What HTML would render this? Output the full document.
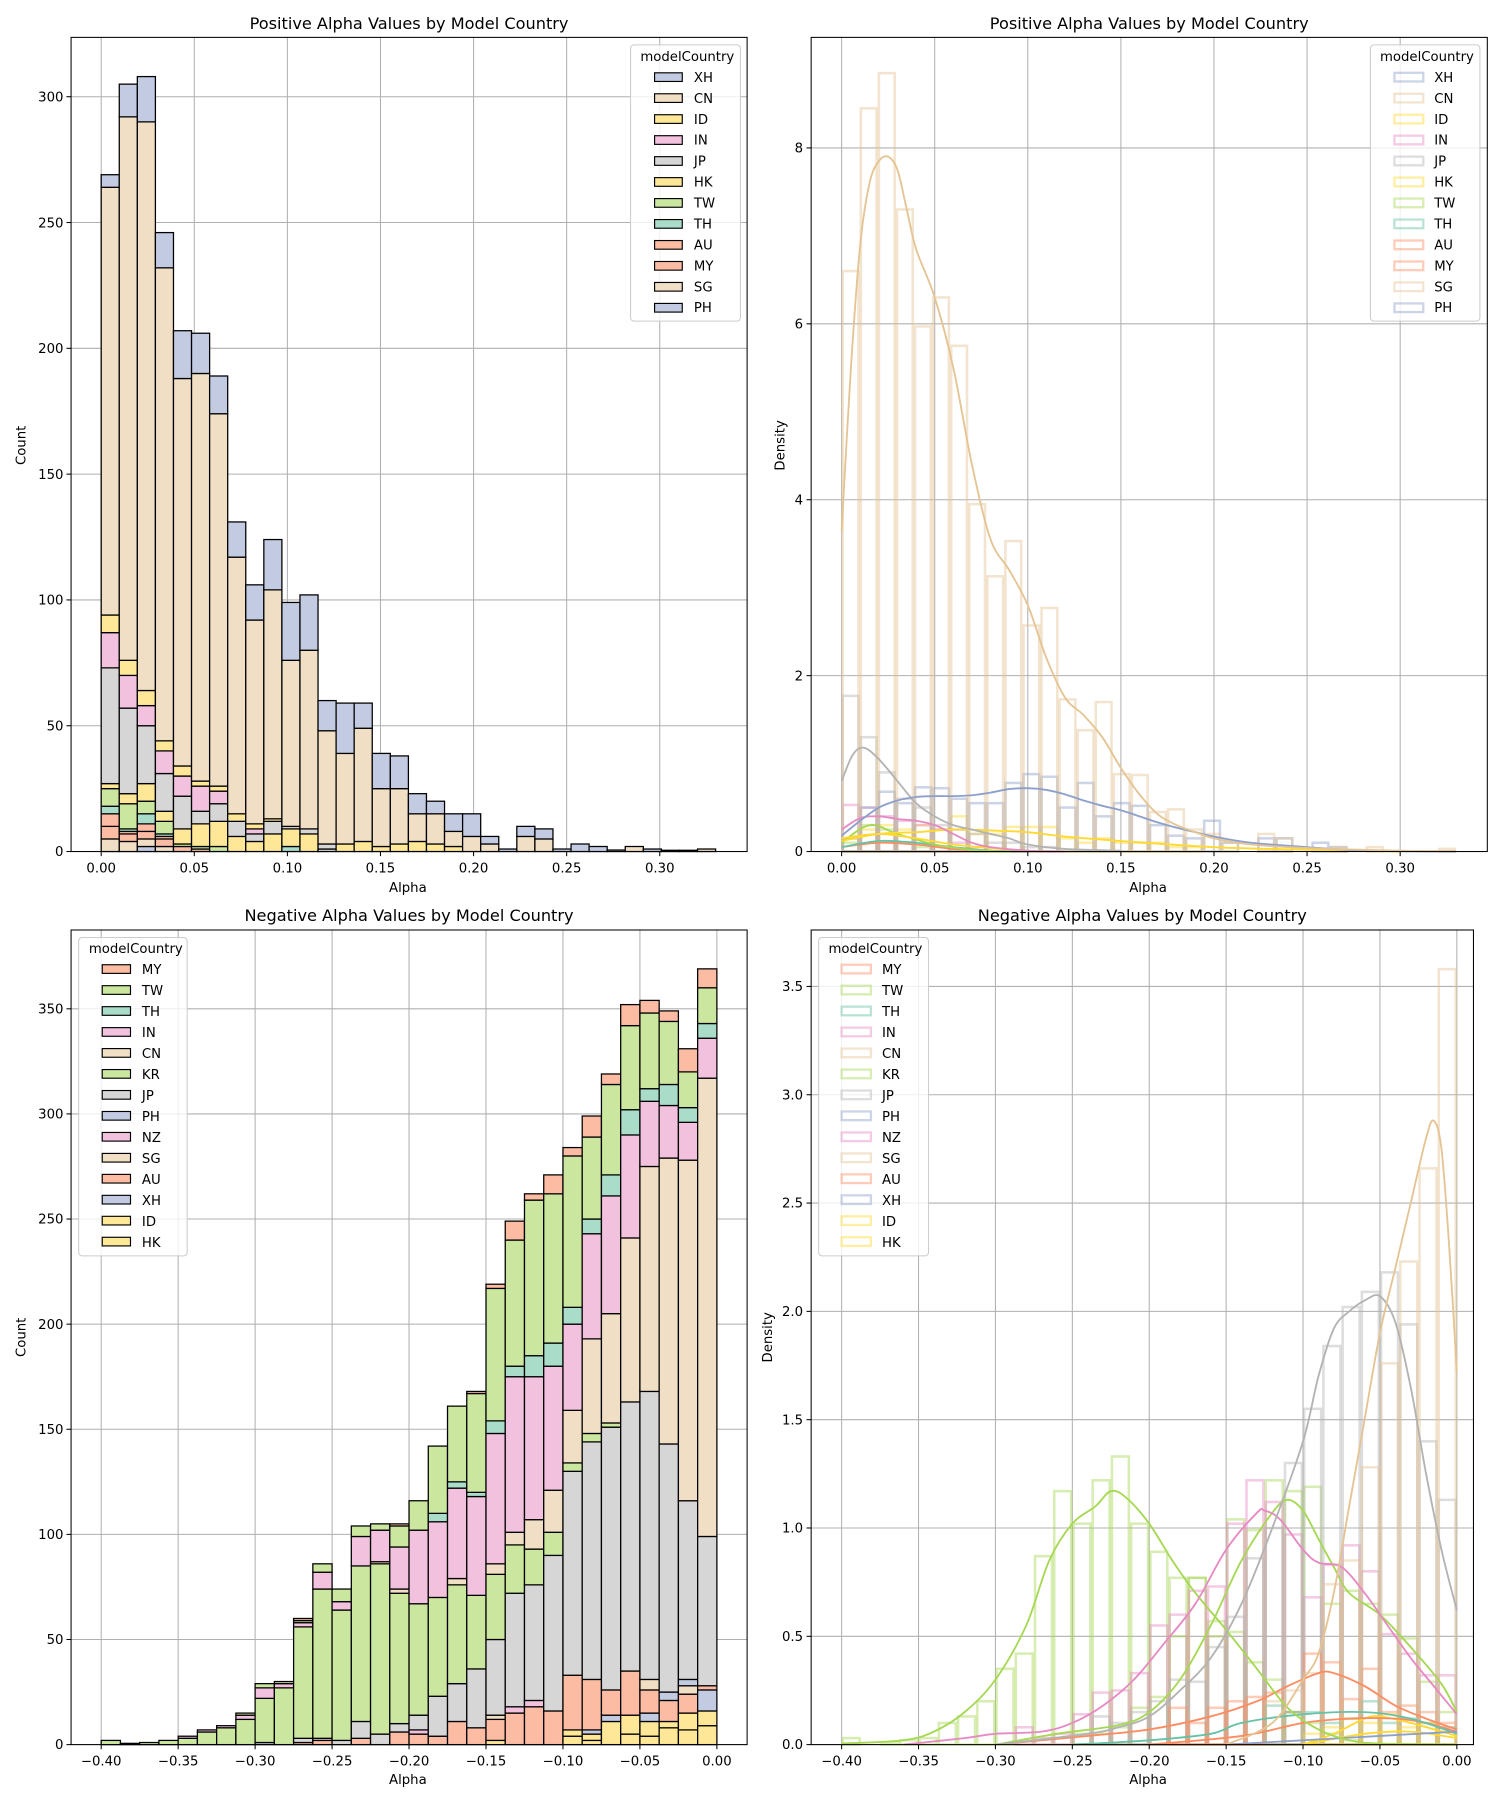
<!DOCTYPE html>
<html><head><meta charset="utf-8"><style>
html,body{margin:0;padding:0;background:#fff}
svg{display:block}
text{font-family:"DejaVu Sans","Liberation Sans",sans-serif;fill:#000}
.t{font-size:11.5px}
.ti{font-size:14px}
</style></head><body>
<svg id="s" xmlns="http://www.w3.org/2000/svg" width="1500" height="1800" viewBox="0 0 1300 1560">
<rect width="1300" height="1560" fill="#fff"/>
<g id="grid"></g>
<g id="bars"></g>
<g id="curves"></g>
<g id="frames" fill="none" stroke="#000" stroke-width="0.9">
<rect x="61.6" y="32.4" width="585.9" height="705.6"/>
<rect x="703" y="32.4" width="586" height="705.6"/>
<rect x="61.6" y="806" width="585.9" height="706"/>
<rect x="703" y="806" width="574" height="706"/>
</g>
<g id="ticks" stroke="#000" stroke-width="0.9"></g>
<!-- titles -->
<text class="ti" x="354.5" y="25" text-anchor="middle">Positive Alpha Values by Model Country</text>
<text class="ti" x="996" y="25" text-anchor="middle">Positive Alpha Values by Model Country</text>
<text class="ti" x="354.5" y="798" text-anchor="middle">Negative Alpha Values by Model Country</text>
<text class="ti" x="990" y="798" text-anchor="middle">Negative Alpha Values by Model Country</text>
<!-- axis labels -->
<text class="t" x="353.5" y="773" text-anchor="middle">Alpha</text>
<text class="t" x="995" y="773" text-anchor="middle">Alpha</text>
<text class="t" x="353.5" y="1546" text-anchor="middle">Alpha</text>
<text class="t" x="995" y="1546" text-anchor="middle">Alpha</text>
<text class="t" transform="translate(22,386) rotate(-90)" text-anchor="middle">Count</text>
<text class="t" transform="translate(680,386) rotate(-90)" text-anchor="middle">Density</text>
<text class="t" transform="translate(22,1159) rotate(-90)" text-anchor="middle">Count</text>
<text class="t" transform="translate(669,1159) rotate(-90)" text-anchor="middle">Density</text>
<!-- TL ticks labels -->
<g class="t" text-anchor="middle">
<text x="87.7" y="756">0.00</text><text x="168.4" y="756">0.05</text><text x="249.1" y="756">0.10</text><text x="329.7" y="756">0.15</text><text x="410.4" y="756">0.20</text><text x="491.1" y="756">0.25</text><text x="571.8" y="756">0.30</text>
<text x="729.4" y="756">0.00</text><text x="810.1" y="756">0.05</text><text x="890.8" y="756">0.10</text><text x="971.4" y="756">0.15</text><text x="1052.1" y="756">0.20</text><text x="1132.8" y="756">0.25</text><text x="1213.5" y="756">0.30</text>
<text x="87.7" y="1530">−0.40</text><text x="154.4" y="1530">−0.35</text><text x="221.1" y="1530">−0.30</text><text x="287.8" y="1530">−0.25</text><text x="354.5" y="1530">−0.20</text><text x="421.2" y="1530">−0.15</text><text x="487.9" y="1530">−0.10</text><text x="554.6" y="1530">−0.05</text><text x="621.3" y="1530">0.00</text>
<text x="729.4" y="1530">−0.40</text><text x="796.1" y="1530">−0.35</text><text x="862.7" y="1530">−0.30</text><text x="929.4" y="1530">−0.25</text><text x="996" y="1530">−0.20</text><text x="1062.7" y="1530">−0.15</text><text x="1129.3" y="1530">−0.10</text><text x="1196" y="1530">−0.05</text><text x="1262.6" y="1530">0.00</text>
</g>
<g class="t" text-anchor="end">
<text x="55" y="742">0</text><text x="55" y="633">50</text><text x="55" y="524">100</text><text x="55" y="415">150</text><text x="55" y="306">200</text><text x="55" y="197">250</text><text x="55" y="88">300</text>
<text x="696" y="742">0</text><text x="696" y="589.6">2</text><text x="696" y="437.1">4</text><text x="696" y="284.7">6</text><text x="696" y="132.2">8</text>
<text x="55" y="1516">0</text><text x="55" y="1424.9">50</text><text x="55" y="1333.8">100</text><text x="55" y="1242.7">150</text><text x="55" y="1151.6">200</text><text x="55" y="1060.5">250</text><text x="55" y="969.4">300</text><text x="55" y="878.3">350</text>
<text x="696" y="1516">0.0</text><text x="696" y="1422.1">0.5</text><text x="696" y="1328.3">1.0</text><text x="696" y="1234.4">1.5</text><text x="696" y="1140.5">2.0</text><text x="696" y="1046.7">2.5</text><text x="696" y="952.8">3.0</text><text x="696" y="858.9">3.5</text>
</g>
<!-- legends -->
<g id="legs"></g>
<g class="t">
<text x="555" y="53">modelCountry</text>
<text x="601.4" y="71">XH</text><text x="601.4" y="89.1">CN</text><text x="601.4" y="107.3">ID</text><text x="601.4" y="125.4">IN</text><text x="601.4" y="143.6">JP</text><text x="601.4" y="161.7">HK</text><text x="601.4" y="179.9">TW</text><text x="601.4" y="198">TH</text><text x="601.4" y="216.2">AU</text><text x="601.4" y="234.3">MY</text><text x="601.4" y="252.5">SG</text><text x="601.4" y="270.6">PH</text>
<text x="1196" y="53">modelCountry</text>
<text x="1243" y="71">XH</text><text x="1243" y="89.1">CN</text><text x="1243" y="107.3">ID</text><text x="1243" y="125.4">IN</text><text x="1243" y="143.6">JP</text><text x="1243" y="161.7">HK</text><text x="1243" y="179.9">TW</text><text x="1243" y="198">TH</text><text x="1243" y="216.2">AU</text><text x="1243" y="234.3">MY</text><text x="1243" y="252.5">SG</text><text x="1243" y="270.6">PH</text>
<text x="77" y="826">modelCountry</text>
<text x="123" y="844">MY</text><text x="123" y="862.2">TW</text><text x="123" y="880.4">TH</text><text x="123" y="898.6">IN</text><text x="123" y="916.8">CN</text><text x="123" y="935">KR</text><text x="123" y="953.2">JP</text><text x="123" y="971.4">PH</text><text x="123" y="989.6">NZ</text><text x="123" y="1007.8">SG</text><text x="123" y="1026">AU</text><text x="123" y="1044.2">XH</text><text x="123" y="1062.4">ID</text><text x="123" y="1080.6">HK</text>
<text x="718" y="826">modelCountry</text>
<text x="764.4" y="844">MY</text><text x="764.4" y="862.2">TW</text><text x="764.4" y="880.4">TH</text><text x="764.4" y="898.6">IN</text><text x="764.4" y="916.8">CN</text><text x="764.4" y="935">KR</text><text x="764.4" y="953.2">JP</text><text x="764.4" y="971.4">PH</text><text x="764.4" y="989.6">NZ</text><text x="764.4" y="1007.8">SG</text><text x="764.4" y="1026">AU</text><text x="764.4" y="1044.2">XH</text><text x="764.4" y="1062.4">ID</text><text x="764.4" y="1080.6">HK</text>
</g>
</svg>
<script>
(function(){
var NS="http://www.w3.org/2000/svg";
function el(p,t,a){var e=document.createElementNS(NS,t);for(var k in a)e.setAttribute(k,a[k]);p.appendChild(e);return e;}
var G=document.getElementById('grid'),B=document.getElementById('bars'),C=document.getElementById('curves'),T=document.getElementById('ticks'),L=document.getElementById('legs');
var FC={B:'#c3cbe3',T:'#f1dfc5',Y:'#fee797',P:'#f1c1de',G:'#d6d6d6',W:'#cbe69e',Q:'#a9dcc9',O:'#fbbca3'};
var SC={B:'#8da0cb',T:'#e5c494',Y:'#ffd92f',P:'#e78ac3',G:'#b3b3b3',W:'#a6d854',Q:'#66c2a5',O:'#fc8d62'};
// panels
var P={
 tl:{x0:87.7,xs:80.68/0.05,y0:738,ys:109.03/50,l:61.6,r:647.5,t:32.4,b:738},
 tr:{x0:729.4,xs:80.68/0.05,y0:738,ys:152.45/2,l:703,r:1289,t:32.4,b:738},
 bl:{x0:621.3,xs:66.7/0.05,y0:1512,ys:91.1/50,l:61.6,r:647.5,t:806,b:1512},
 br:{x0:1262.6,xs:66.65/0.05,y0:1512,ys:93.87/0.5,l:703,r:1277,t:806,b:1512}
};
function X(p,v){return p.x0+v*p.xs;} function Y(p,v){return p.y0-v*p.ys;}
function grid(p,xv,yv){xv.forEach(function(v){var x=X(p,v);el(G,'line',{x1:x,x2:x,y1:p.t,y2:p.b,stroke:'#b0b0b0','stroke-width':0.9});el(T,'line',{x1:x,x2:x,y1:p.b,y2:p.b+4});});
 yv.forEach(function(v){var y=Y(p,v);el(G,'line',{x1:p.l,x2:p.r,y1:y,y2:y,stroke:'#b0b0b0','stroke-width':0.9});el(T,'line',{x1:p.l-4,x2:p.l,y1:y,y2:y});});}
grid(P.tl,[0,.05,.1,.15,.2,.25,.3],[0,50,100,150,200,250,300]);
grid(P.tr,[0,.05,.1,.15,.2,.25,.3],[0,2,4,6,8]);
grid(P.bl,[-.4,-.35,-.3,-.25,-.2,-.15,-.1,-.05,0],[0,50,100,150,200,250,300,350]);
grid(P.br,[-.4,-.35,-.3,-.25,-.2,-.15,-.1,-.05,0],[0,.5,1,1.5,2,2.5,3,3.5]);
// stacked bars
function stack(p,start,w,data){data.forEach(function(s,i){var xa=X(p,start+i*w),xb=X(p,start+(i+1)*w),prev=0;
 s.split(' ').forEach(function(tok){if(!tok)return;var c=tok[0],v=parseFloat(tok.slice(1));if(v<=prev)return;
  el(B,'rect',{x:xa,y:Y(p,v),width:xb-xa,height:(v-prev)*p.ys,fill:FC[c],stroke:'#000','stroke-width':1.1});prev=v;});});}
var tlw=0.33/34;
stack(P.tl,0,tlw,["T5 O10 O15 Q18 W25 Y27 G73 P87 Y94 T264 B269","T4 O7 O8 Q9 W19 Y23 G57 P70 Y76 T292 B305","B2 T5 O8 O11 Q15 W20 Y27 G50 P58 Y64 T290 B308","T2 O5 O6 Q7 W12 Y16 G31 P40 Y44 T232 B246","O2 W3 Y9 G22 P30 Y34 T188 B207","O1 W2 Y11 G16 P26 Y28 T190 B206","W2 Y12 G19 P24 Y26 T174 B189","Y6 G12 Y15 T117 B131","Y4 G7 P9 Y11 T92 B106","Y7 G12 Y13 T104 B124","Q2 Y9 G10 T76 B99","Y7 G9 T80 B102","G1 G3 T48 B60","Y3 T39 B59","Y4 T49 B59","Y2 T25 B39","Y3 T25 B38","Y4 T15 B23","Y3 T15 B20","Y2 T8 B15","T6 B15","T3 B6","B1","T6 B10","T5 B9","B1","B3","B2","B0.6","T2","B1","B0.5","B0.5","T1"]);
stack(P.bl,-0.4,0.0125,["W2","W0.6","W1","W2","W3 P4","W6 P7","W8 P9","W12 P14 W15","G1 W22 P27 W29","W27 P29 W30","O1 G3 W56 P58 W59 O60","O2 G3 W74 P82 W86","G2 W64 P68 W74","O3 G11 W85 P99 W104","G5 W86 T87 P102 W105","O6 G10 W72 T74 P94 W104 O105","O5 P7 G14 W67 P102 W116","O4 G23 W70 P106 Q110 W142","O11 G29 W76 T79 P122 Q125 W161","O8 G36 W71 P118 Q120 W167 O168","Y2 O12 T14 G50 W81 T86 P148 Q154 W217 O219","O15 P18 G72 W95 T101 P175 Q180 W240 O249","O18 P21 G76 W93 T107 P175 Q185 W259 O262","O16 G90 W101 T121 P180 Q191 W262 O271","Y4 Y7 O33 G130 W134 T159 P200 Q208 W280 O284","Y2 Y5 B7 O31 G144 W148 T193 P243 Q250 W289 O299","Y11 B14 O26 G151 W153 T205 P261 Q271 W314 O319","Y5 Y14 O35 G163 T241 P290 Q302 W342 O352","Y4 Y11 B15 O26 T31 G168 T275 P306 Q312 W348 O354","Y8 Y11 O21 B25 G143 T279 P304 Q314 W344 O349","Y7 Y15 O24 T28 B31 G116 T278 P296 Q303 W320 O331","Y9 Y16 B26 O28 G99 T317 P336 Q343 W360 O369"]);
// outline bars
function obars(p,start,w,c,arr){arr.forEach(function(v,i){if(!v)return;var xa=X(p,start+i*w),xb=X(p,start+(i+1)*w);
 el(B,'rect',{x:xa+1,y:Y(p,v),width:xb-xa-2,height:v*p.ys,fill:'none',stroke:SC[c],'stroke-opacity':0.45,'stroke-width':2.2});});}
obars(P.tr,0,tlw,'Y',[0.15,0.25,0.3,0.25,0.3,0.25,0.4,0.2,0.2,0.28,0.28,0.28,0.15,0.1,0.15,0.1,0.1,0.1,0.05,0.05]);
obars(P.tr,0,tlw,'W',[0.1,0.3,0.25,0.1,0.05]);
obars(P.tr,0,tlw,'P',[0.53,0.5,0.4,0.35,0.3,0.25,0.1,0.05]);
obars(P.tr,0,tlw,'G',[1.77,1.3,0.9,0.6,0.5,0.3,0.25,0.2,0.1,0.1,0.05,0.05]);
obars(P.tr,0,tlw,'B',[0.15,0.5,0.68,0.55,0.73,0.72,0.6,0.55,0.55,0.78,0.88,0.85,0.5,0.78,0.4,0.55,0.52,0.3,0.18,0.15,0.35,0.1,0,0.15,0.15,0,0.1,0.05]);
obars(P.tr,0,tlw,'T',[6.6,8.45,8.85,7.3,5.97,6.3,5.75,3.95,3.13,3.53,2.57,2.77,1.73,1.38,1.7,0.88,0.87,0.45,0.48,0.25,0.2,0.1,0,0.2,0.15,0,0,0.05,0,0.05,0,0,0,0.03]);
var z=function(n){var a=[];for(var i=0;i<n;i++)a.push(0);return a;};
obars(P.br,-0.4,0.0125,'W',[0.03,0,0.01,0.02,0.03,0.1,0.13,0.2,0.35,0.42,0.87,1.17,1.02,1.22,1.33,1.02,0.89,0.77,0.77,0.57,0.52,0.38,0.3,0.15,0.1,0.05,0.02]);
obars(P.br,-0.4,0.0125,'W',z(12).concat([0.05,0.05,0.08,0.17,0.22,0.5,0.77,0.5,1.04,0.99,1.22,1.17,1.19,0.65,0.71,0.65,0.6,0.49,0.29,0.15]));
obars(P.br,-0.4,0.0125,'P',z(9).concat([0.08,0.03,0.05,0.14,0.24,0.25,0.33,0.55,0.6,0.71,0.73,1.02,1.22,1.12,0.97,0.68,0.83,0.92,0.8,0.51,0.42,0.32,0.32]));
obars(P.br,-0.4,0.0125,'G',z(13).concat([0.13,0.1,0.15,0.2,0.3,0.29,0.45,0.59,0.86,1.0,1.3,1.55,1.84,2.02,2.09,2.18,1.94,1.4,1.13]));
obars(P.br,-0.4,0.0125,'O',z(17).concat([0.17,0.1,0.17,0.2,0.22,0.24,0.15,0.42,0.38,0.21,0.35,0.15,0.18,0.15,0.1]));
obars(P.br,-0.4,0.0125,'Q',z(22).concat([0.18,0.15,0.15,0.1,0.12,0.2,0.1,0.12,0.1,0.08]));
obars(P.br,-0.4,0.0125,'Y',z(24).concat([0.05,0.08,0.12,0.1,0.14,0.08,0.1,0.06]));
obars(P.br,-0.4,0.0125,'T',z(22).concat([0.2,0.25,0.33,0.74,0.85,1.28,1.76,2.23,2.66,3.58]));
// curves
function curve(p,c,pts){var q=pts.map(function(a){return [X(p,a[0]),Y(p,a[1])];});var d='M'+q[0][0]+','+q[0][1];
 for(var i=0;i<q.length-1;i++){var p0=q[Math.max(i-1,0)],p1=q[i],p2=q[i+1],p3=q[Math.min(i+2,q.length-1)];
  d+=' C'+(p1[0]+(p2[0]-p0[0])/6)+','+(p1[1]+(p2[1]-p0[1])/6)+' '+(p2[0]-(p3[0]-p1[0])/6)+','+(p2[1]-(p3[1]-p1[1])/6)+' '+p2[0]+','+p2[1];}
 el(C,'path',{d:d,fill:'none',stroke:SC[c],'stroke-width':1.6});}
curve(P.tr,'O',[[0,0.05],[0.02,0.1],[0.04,0.08],[0.06,0.03],[0.08,0.01],[0.1,0]]);
curve(P.tr,'Q',[[0,0.05],[0.02,0.12],[0.04,0.1],[0.06,0.05],[0.08,0.01],[0.1,0]]);
curve(P.tr,'W',[[0,0.1],[0.015,0.3],[0.03,0.2],[0.05,0.08],[0.07,0.02],[0.09,0]]);
curve(P.tr,'Y',[[0,0.15],[0.02,0.2],[0.04,0.15],[0.06,0.08],[0.08,0.04],[0.1,0.01]]);
curve(P.tr,'Y',[[0,0.12],[0.02,0.2],[0.04,0.22],[0.06,0.25],[0.08,0.24],[0.1,0.22],[0.12,0.17],[0.15,0.12],[0.2,0.05],[0.25,0.02],[0.3,0]]);
curve(P.tr,'P',[[0,0.25],[0.01,0.38],[0.02,0.4],[0.03,0.37],[0.04,0.35],[0.05,0.3],[0.06,0.2],[0.07,0.1],[0.08,0.05],[0.1,0.01],[0.12,0]]);
curve(P.tr,'G',[[0,0.8],[0.006,1.1],[0.012,1.18],[0.02,1.05],[0.03,0.8],[0.04,0.55],[0.05,0.4],[0.06,0.3],[0.07,0.25],[0.08,0.2],[0.09,0.15],[0.1,0.08],[0.12,0.03],[0.15,0.01]]);
curve(P.tr,'B',[[0,0.18],[0.01,0.35],[0.02,0.5],[0.03,0.58],[0.04,0.62],[0.05,0.63],[0.06,0.63],[0.07,0.64],[0.08,0.67],[0.09,0.71],[0.1,0.72],[0.11,0.7],[0.12,0.65],[0.13,0.58],[0.14,0.52],[0.15,0.47],[0.16,0.4],[0.17,0.33],[0.18,0.27],[0.19,0.22],[0.2,0.17],[0.22,0.1],[0.25,0.05],[0.28,0.01],[0.33,0]]);
curve(P.tr,'T',[[0,3.65],[0.005,5.5],[0.01,6.9],[0.015,7.6],[0.02,7.85],[0.025,7.9],[0.03,7.75],[0.035,7.3],[0.04,6.85],[0.05,6.3],[0.06,5.5],[0.07,4.4],[0.08,3.55],[0.09,3.2],[0.1,2.8],[0.11,2.2],[0.12,1.75],[0.13,1.55],[0.14,1.3],[0.15,0.95],[0.16,0.65],[0.17,0.42],[0.18,0.3],[0.19,0.22],[0.2,0.15],[0.22,0.08],[0.25,0.04],[0.3,0.01],[0.33,0.005]]);
curve(P.br,'Y',[[-0.1,0],[-0.06,0.05],[-0.03,0.06],[0,0.03]]);
curve(P.br,'Y',[[-0.1,0],[-0.08,0.05],[-0.06,0.12],[-0.05,0.13],[-0.03,0.1],[0,0.04]]);
curve(P.br,'O',[[-0.2,0],[-0.14,0.04],[-0.1,0.1],[-0.07,0.12],[-0.04,0.12],[-0.02,0.1],[0,0.06]]);
curve(P.br,'Q',[[-0.25,0],[-0.2,0.02],[-0.16,0.05],[-0.14,0.1],[-0.1,0.14],[-0.06,0.15],[-0.03,0.12],[0,0.05]]);
curve(P.br,'B',[[-0.15,0],[-0.1,0.02],[-0.05,0.04],[0,0.06]]);
curve(P.br,'O',[[-0.3,0],[-0.24,0.04],[-0.2,0.07],[-0.16,0.13],[-0.13,0.2],[-0.11,0.27],[-0.09,0.33],[-0.08,0.33],[-0.06,0.27],[-0.04,0.18],[-0.02,0.12],[0,0.07]]);
curve(P.br,'W',[[-0.40,0.005],[-0.36,0.02],[-0.34,0.06],[-0.32,0.15],[-0.30,0.3],[-0.28,0.55],[-0.265,0.85],[-0.25,1.02],[-0.235,1.1],[-0.225,1.17],[-0.215,1.14],[-0.2,1.02],[-0.185,0.85],[-0.17,0.7],[-0.15,0.53],[-0.13,0.35],[-0.11,0.17],[-0.09,0.07],[-0.07,0.02],[-0.05,0.005],[0,0]]);
curve(P.br,'W',[[-0.3,0],[-0.26,0.05],[-0.22,0.09],[-0.2,0.15],[-0.18,0.3],[-0.16,0.55],[-0.14,0.85],[-0.12,1.07],[-0.11,1.13],[-0.1,1.08],[-0.09,0.95],[-0.08,0.82],[-0.07,0.7],[-0.05,0.6],[-0.03,0.45],[-0.01,0.28],[0,0.15]]);
curve(P.br,'P',[[-0.36,0],[-0.32,0.03],[-0.3,0.05],[-0.27,0.06],[-0.25,0.1],[-0.23,0.18],[-0.21,0.3],[-0.19,0.47],[-0.17,0.65],[-0.15,0.9],[-0.13,1.07],[-0.125,1.08],[-0.115,1.04],[-0.1,0.9],[-0.09,0.84],[-0.075,0.82],[-0.06,0.7],[-0.045,0.55],[-0.03,0.4],[-0.015,0.27],[0,0.14]]);
curve(P.br,'G',[[-0.3,0],[-0.24,0.05],[-0.22,0.08],[-0.2,0.13],[-0.18,0.25],[-0.16,0.4],[-0.14,0.65],[-0.12,1.0],[-0.1,1.4],[-0.09,1.7],[-0.08,1.92],[-0.07,2.0],[-0.06,2.05],[-0.05,2.07],[-0.04,1.95],[-0.03,1.65],[-0.02,1.25],[-0.01,0.9],[0,0.62]]);
curve(P.br,'T',[[-0.15,0],[-0.12,0.1],[-0.1,0.3],[-0.09,0.42],[-0.08,0.7],[-0.07,1.1],[-0.06,1.5],[-0.05,1.9],[-0.04,2.2],[-0.03,2.5],[-0.02,2.8],[-0.015,2.88],[-0.01,2.75],[-0.005,2.3],[0,1.72]]);
// legends
function leg(x1,y1,x2,y2,px,pw,py0,codes,filled){el(L,'rect',{x:x1,y:y1,width:x2-x1,height:y2-y1,rx:3,fill:'#fff','fill-opacity':0.8,stroke:'#ccc','stroke-width':0.9});
 codes.split('').forEach(function(c,i){var y=py0+i*18.17-3.8;
  if(filled)el(L,'rect',{x:px,y:y,width:pw,height:7.5,fill:FC[c],stroke:'#000','stroke-width':1});
  else el(L,'rect',{x:px,y:y,width:pw,height:7.5,fill:'none',stroke:SC[c],'stroke-opacity':0.45,'stroke-width':2});});}
leg(546.5,38.9,641.7,278.3,567.3,24,66.9,'BTYPGYWQOOTB',true);
leg(1187.7,38.9,1282.6,278.3,1208.5,25,66.9,'BTYPGYWQOOTB',false);
leg(68.2,812.5,162.2,1088.4,88.6,24.5,839.9,'OWQPTWGBPTOBYY',true);
leg(709.5,812.5,804.7,1088.4,729.4,25.4,839.9,'OWQPTWGBPTOBYY',false);
})();
</script>
</body></html>
